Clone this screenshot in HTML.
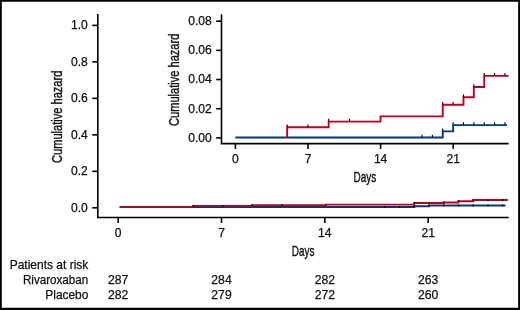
<!DOCTYPE html>
<html><head><meta charset="utf-8"><title>Cumulative hazard</title>
<style>
html,body{margin:0;padding:0;background:#fff;}
body{width:520px;height:310px;overflow:hidden;}
svg{display:block;will-change:transform;}
text{font-family:"Liberation Sans",Arial,Helvetica,sans-serif;fill:#111;stroke:#111;stroke-width:0.25px;}
.t{font-size:12.1px;}
.b{font-size:12.2px;}
.c{font-size:15.2px;stroke-width:0.4px;}
</style></head><body>
<svg width="520" height="310" viewBox="0 0 520 310">
<rect x="0" y="0" width="520" height="310" fill="#fff"/>
<path d="M0 0H520V310H0Z M1.8 1.7V307.8H518.15V1.7Z" fill="#000" fill-rule="evenodd"/>
<g stroke="#000" stroke-width="1.6" fill="none"><path d="M97.8 14.0V217.55H508.7"/><path d="M92.3 207.80H97.8"/><path d="M92.3 171.32H97.8"/><path d="M92.3 134.84H97.8"/><path d="M92.3 98.36H97.8"/><path d="M92.3 61.88H97.8"/><path d="M92.3 25.40H97.8"/><path d="M118.20 217.55V222.9"/><path d="M221.52 217.55V222.9"/><path d="M324.84 217.55V222.9"/><path d="M428.16 217.55V222.9"/><path d="M221.5 14.2V143.6H508.7"/><path d="M216.2 137.90H221.5"/><path d="M216.2 108.72H221.5"/><path d="M216.2 79.54H221.5"/><path d="M216.2 50.36H221.5"/><path d="M216.2 21.18H221.5"/><path d="M235.40 143.6V148.9"/><path d="M308.00 143.6V148.9"/><path d="M380.61 143.6V148.9"/><path d="M453.21 143.6V148.9"/></g>
<g fill="none" stroke-width="1.9"><path stroke="#003a78" d="M119.70 207.05 H414.30 V206.30 H429.03 V205.50 H505.63"/><path stroke="#c2001e" d="M119.70 207.10 H193.35 V205.85 H252.27 V205.20 H325.92 V204.65 H414.30 V203.05 H443.76 V202.45 H458.49 V201.25 H473.22 V200.05 H507.84"/><path stroke="#003a78" d="M235.30 137.45 H442.74 V131.35 H453.11 V125.10 H507.05"/><path stroke="#c2001e" d="M287.16 137.45 H287.16 V127.28 H328.65 V121.62 H380.51 V116.39 H442.74 V104.77 H463.48 V97.22 H473.86 V87.05 H484.23 V75.86 H508.60"/></g>
<g stroke="#000" stroke-width="1.1" fill="none"><path d="M287.16 126.98 v-2.50"/><path d="M307.90 126.98 v-2.50"/><path d="M328.65 121.32 v-2.50"/><path d="M349.39 121.32 v-2.50"/><path d="M442.74 104.47 v-2.50"/><path d="M453.11 104.47 v-2.50"/><path d="M463.48 96.92 v-2.50"/><path d="M473.86 86.75 v-2.50"/><path d="M484.23 75.56 v-2.50"/><path d="M494.60 75.56 v-2.50"/><path d="M504.97 75.56 v-2.50"/><path d="M422.00 137.15 v-2.50"/><path d="M432.37 137.15 v-2.50"/><path d="M442.74 131.05 v-2.50"/><path d="M453.11 124.80 v-2.50"/><path d="M463.48 124.80 v-2.50"/><path d="M473.86 124.80 v-2.50"/><path d="M484.23 124.80 v-2.50"/><path d="M494.60 124.80 v-2.50"/><path d="M504.97 124.80 v-2.50"/></g>
<g stroke="#000" stroke-width="1.5" fill="none"><path d="M193.35 204.95 v1.6"/><path d="M222.81 204.95 v1.6"/><path d="M252.27 204.30 v1.6"/><path d="M281.73 204.30 v1.6"/><path d="M414.30 202.15 v1.6"/><path d="M429.03 202.15 v1.6"/><path d="M443.76 201.55 v1.6"/><path d="M458.49 200.35 v1.6"/><path d="M473.22 199.15 v1.6"/><path d="M487.95 199.15 v1.6"/><path d="M502.68 199.15 v1.6"/><path d="M384.84 206.15 v1.6"/><path d="M399.57 206.15 v1.6"/><path d="M414.30 205.40 v1.6"/><path d="M429.03 204.60 v1.6"/><path d="M443.76 204.60 v1.6"/><path d="M458.49 204.60 v1.6"/><path d="M473.22 204.60 v1.6"/><path d="M487.95 204.60 v1.6"/><path d="M502.68 204.60 v1.6"/></g>
<text class="t" x="87.8" y="211.65" text-anchor="end">0.0</text><text class="t" x="87.8" y="175.14" text-anchor="end">0.2</text><text class="t" x="87.8" y="138.63" text-anchor="end">0.4</text><text class="t" x="87.8" y="102.12" text-anchor="end">0.6</text><text class="t" x="87.8" y="65.61" text-anchor="end">0.8</text><text class="t" x="87.8" y="29.10" text-anchor="end">1.0</text><text class="t" x="118.20" y="236.9" text-anchor="middle">0</text><text class="t" x="221.52" y="236.9" text-anchor="middle">7</text><text class="t" x="324.84" y="236.9" text-anchor="middle">14</text><text class="t" x="428.16" y="236.9" text-anchor="middle">21</text><text class="t" x="211.8" y="141.85" text-anchor="end">0.00</text><text class="t" x="211.8" y="112.65" text-anchor="end">0.02</text><text class="t" x="211.8" y="83.45" text-anchor="end">0.04</text><text class="t" x="211.8" y="54.25" text-anchor="end">0.06</text><text class="t" x="211.8" y="25.05" text-anchor="end">0.08</text><text class="t" x="235.40" y="162.6" text-anchor="middle">0</text><text class="t" x="308.00" y="162.6" text-anchor="middle">7</text><text class="t" x="380.61" y="162.6" text-anchor="middle">14</text><text class="t" x="453.21" y="162.6" text-anchor="middle">21</text>
<text class="c" transform="translate(62.3 116.8) rotate(-90) scale(0.728 1)" text-anchor="middle">Cumulative hazard</text><text class="c" transform="translate(179.4 79.8) rotate(-90) scale(0.728 1)" text-anchor="middle">Cumulative hazard</text><text class="c" transform="translate(303.1 255.8) scale(0.655 1)" text-anchor="middle">Days</text><text class="c" transform="translate(364.9 181.9) scale(0.655 1)" text-anchor="middle">Days</text>
<text class="b" x="88.3" y="268.8" text-anchor="end" textLength="78.6" lengthAdjust="spacingAndGlyphs">Patients at risk</text><text class="b" x="88.3" y="283.8" text-anchor="end" textLength="65.4" lengthAdjust="spacingAndGlyphs">Rivaroxaban</text><text class="b" x="88.3" y="299.0" text-anchor="end" textLength="43.0" lengthAdjust="spacingAndGlyphs">Placebo</text><text class="b" x="118.20" y="283.8" text-anchor="middle">287</text><text class="b" x="118.20" y="299.0" text-anchor="middle">282</text><text class="b" x="221.52" y="283.8" text-anchor="middle">284</text><text class="b" x="221.52" y="299.0" text-anchor="middle">279</text><text class="b" x="324.84" y="283.8" text-anchor="middle">282</text><text class="b" x="324.84" y="299.0" text-anchor="middle">272</text><text class="b" x="428.16" y="283.8" text-anchor="middle">263</text><text class="b" x="428.16" y="299.0" text-anchor="middle">260</text>
</svg>
</body></html>
